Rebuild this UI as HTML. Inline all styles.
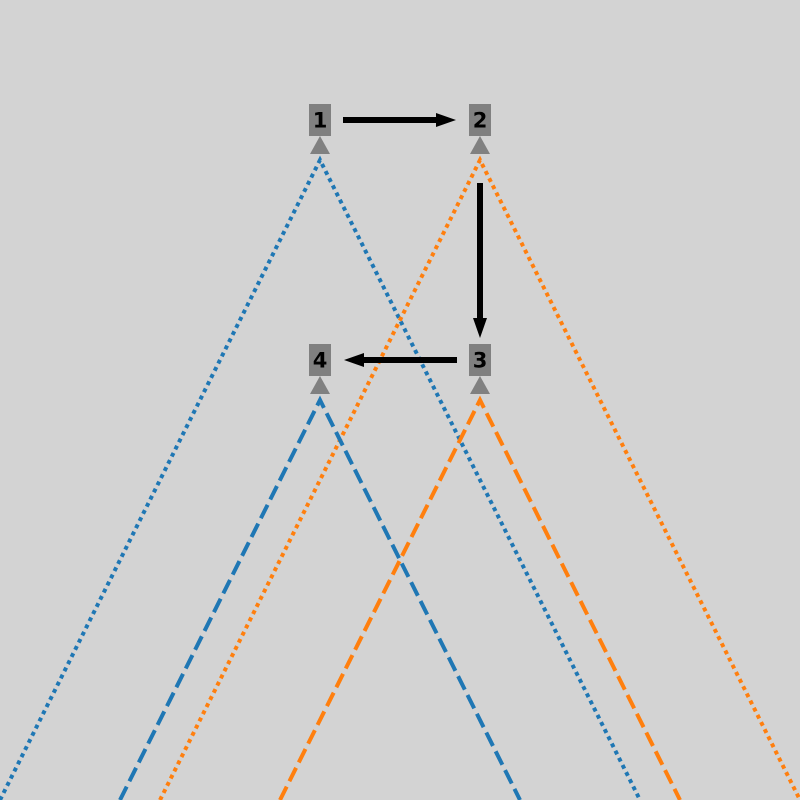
<!DOCTYPE html>
<html><head><style>body{margin:0;background:#d3d3d3}svg{display:block}</style></head>
<body>
<svg width="800" height="800" viewBox="0 0 800 800">
<rect width="800" height="800" fill="#d3d3d3"/>
<g id="cones"></g>
<g id="arrows"></g>
<g id="nodes"></g>
</svg>
<script>
const nodeLabels = ["1","2","3","4"];
const nodeX = [1,2,2,1];
const nodeY = [1,1,2,2];
const edgeFrom = [0,1,2];
const edgeTo = [1,2,3];
const coneNodes = [0,1,3,2];
const coneColors = ["#1f77b4","#ff7f0e","#1f77b4","#ff7f0e"];
const coneStyles = ["dotted","dotted","dashed","dashed"];
const sx = v => 160*v + 160;
const sy = v => 240*v - 120;
const NS="http://www.w3.org/2000/svg";
const cones=document.getElementById('cones'), arrows=document.getElementById('arrows'), nodes=document.getElementById('nodes');
coneNodes.forEach((n,i)=>{
  const x=sx(nodeX[n]), y=sy(nodeY[n])+40;
  const p=document.createElementNS(NS,'polyline');
  const dy=800-y;
  p.setAttribute('points',`${x-dy/2},800 ${x},${y} ${x+dy/2},800`);
  p.setAttribute('fill','none');
  p.setAttribute('stroke',coneColors[i]);
  p.setAttribute('stroke-width','4');
  p.setAttribute('stroke-dasharray',coneStyles[i]==='dotted'?'4,4':'15,6');
  
  
  cones.appendChild(p);
});
edgeFrom.forEach((f,i)=>{
  const t=edgeTo[i];
  const x1=sx(nodeX[f]),y1=sy(nodeY[f]),x2=sx(nodeX[t]),y2=sy(nodeY[t]);
  const dx=x2-x1,dy=y2-y1,L=Math.hypot(dx,dy),ux=dx/L,uy=dy/L;
  const s=uy>0.5?63:23,e=uy>0.5?22:24,hl=20,hw=7;
  const ax=x1+ux*s,ay=y1+uy*s,bx=x2-ux*e,by=y2-uy*e;
  const cx=bx-ux*hl,cy=by-uy*hl;
  const g=document.createElementNS(NS,'g');
  
  
  const l=document.createElementNS(NS,'line');
  l.setAttribute('x1',ax);l.setAttribute('y1',ay);l.setAttribute('x2',cx+ux*2);l.setAttribute('y2',cy+uy*2);
  l.setAttribute('stroke','#000');l.setAttribute('stroke-width','6');
  g.appendChild(l);
  const h=document.createElementNS(NS,'polygon');
  h.setAttribute('points',`${bx},${by} ${cx-uy*hw},${cy+ux*hw} ${cx+uy*hw},${cy-ux*hw}`);
  h.setAttribute('fill','#000');
  g.appendChild(h);
  arrows.appendChild(g);
});
nodeLabels.forEach((lab,i)=>{
  const x=sx(nodeX[i]),y=sy(nodeY[i]);
  const g=document.createElementNS(NS,'g');
  
  
  const r=document.createElementNS(NS,'rect');
  r.setAttribute('x',x-11);r.setAttribute('y',y-16);r.setAttribute('width',22);r.setAttribute('height',32);r.setAttribute('fill','#808080');
  g.appendChild(r);
  const tri=document.createElementNS(NS,'polygon');
  tri.setAttribute('points',`${x},${y+16} ${x-10},${y+34} ${x+10},${y+34}`);
  tri.setAttribute('fill','#808080');
  g.appendChild(tri);
  const t=document.createElementNS(NS,'text');
  t.setAttribute('x',x);t.setAttribute('y',y+7.5);t.setAttribute('text-anchor','middle');
  t.setAttribute('font-family','"DejaVu Sans","Liberation Sans",sans-serif');
  t.setAttribute('font-weight','bold');t.setAttribute('font-size','21');
  t.textContent=lab;
  g.appendChild(t);
  nodes.appendChild(g);
});
</script>
</body></html>
